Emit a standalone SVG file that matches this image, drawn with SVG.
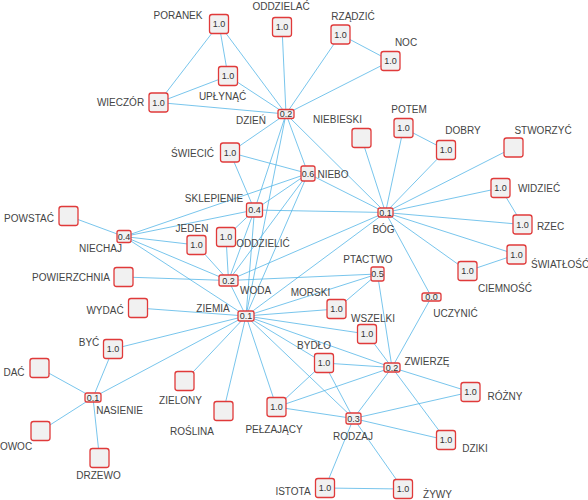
<svg xmlns="http://www.w3.org/2000/svg" width="588" height="500" viewBox="0 0 588 500">
<style>
.e{stroke:#4db3e6;stroke-width:0.9;fill:none;stroke-opacity:0.85}
.b{fill:#f1f1f1;stroke:#e03a3a;stroke-width:1.3}
.v{font-family:"Liberation Sans",Arial,sans-serif;font-size:9px;fill:#333;text-anchor:middle}
.l{font-family:"Liberation Sans",Arial,sans-serif;font-size:10px;fill:#444;text-anchor:middle}
</style>
<rect width="588" height="500" fill="#fff"/>
<g id="connectors">
<line class="e" x1="219" y1="24" x2="286" y2="114"/>
<line class="e" x1="219" y1="24" x2="158.5" y2="102.5"/>
<line class="e" x1="219" y1="24" x2="228" y2="76"/>
<line class="e" x1="282" y1="27" x2="286" y2="114"/>
<line class="e" x1="340.5" y1="34.5" x2="286" y2="114"/>
<line class="e" x1="340.5" y1="34.5" x2="390.5" y2="61"/>
<line class="e" x1="390.5" y1="61" x2="286" y2="114"/>
<line class="e" x1="228" y1="76" x2="286" y2="114"/>
<line class="e" x1="228" y1="76" x2="158.5" y2="102.5"/>
<line class="e" x1="158.5" y1="102.5" x2="286" y2="114"/>
<line class="e" x1="230" y1="152.5" x2="286" y2="114"/>
<line class="e" x1="230" y1="152.5" x2="308" y2="173.5"/>
<line class="e" x1="230" y1="152.5" x2="254.5" y2="210"/>
<line class="e" x1="286" y1="114" x2="308" y2="173.5"/>
<line class="e" x1="286" y1="114" x2="385.5" y2="212.5"/>
<line class="e" x1="286" y1="114" x2="254.5" y2="210"/>
<line class="e" x1="286" y1="114" x2="246" y2="316"/>
<line class="e" x1="361.5" y1="138" x2="385.5" y2="212.5"/>
<line class="e" x1="403.5" y1="128" x2="385.5" y2="212.5"/>
<line class="e" x1="403.5" y1="128" x2="446" y2="150"/>
<line class="e" x1="446" y1="150" x2="385.5" y2="212.5"/>
<line class="e" x1="513.5" y1="147.5" x2="385.5" y2="212.5"/>
<line class="e" x1="500.5" y1="188" x2="385.5" y2="212.5"/>
<line class="e" x1="500.5" y1="188" x2="522.5" y2="224.5"/>
<line class="e" x1="522.5" y1="224.5" x2="385.5" y2="212.5"/>
<line class="e" x1="516.5" y1="254.5" x2="385.5" y2="212.5"/>
<line class="e" x1="516.5" y1="254.5" x2="467.5" y2="271"/>
<line class="e" x1="467.5" y1="271" x2="385.5" y2="212.5"/>
<line class="e" x1="431.5" y1="297" x2="385.5" y2="212.5"/>
<line class="e" x1="431.5" y1="297" x2="392" y2="367.5"/>
<line class="e" x1="308" y1="173.5" x2="385.5" y2="212.5"/>
<line class="e" x1="308" y1="173.5" x2="254.5" y2="210"/>
<line class="e" x1="308" y1="173.5" x2="246" y2="316"/>
<line class="e" x1="308" y1="173.5" x2="228.5" y2="280.5"/>
<line class="e" x1="124" y1="236.5" x2="308" y2="173.5"/>
<line class="e" x1="254.5" y1="210" x2="385.5" y2="212.5"/>
<line class="e" x1="254.5" y1="210" x2="228.5" y2="280.5"/>
<line class="e" x1="254.5" y1="210" x2="246" y2="316"/>
<line class="e" x1="254.5" y1="210" x2="226" y2="237"/>
<line class="e" x1="254.5" y1="210" x2="124" y2="236.5"/>
<line class="e" x1="68.5" y1="216" x2="124" y2="236.5"/>
<line class="e" x1="124" y1="236.5" x2="196.5" y2="245"/>
<line class="e" x1="124" y1="236.5" x2="228.5" y2="280.5"/>
<line class="e" x1="124" y1="236.5" x2="246" y2="316"/>
<line class="e" x1="196.5" y1="245" x2="228.5" y2="280.5"/>
<line class="e" x1="226" y1="237" x2="228.5" y2="280.5"/>
<line class="e" x1="123.5" y1="277" x2="228.5" y2="280.5"/>
<line class="e" x1="228.5" y1="280.5" x2="385.5" y2="212.5"/>
<line class="e" x1="228.5" y1="280.5" x2="377.5" y2="274"/>
<line class="e" x1="228.5" y1="280.5" x2="246" y2="316"/>
<line class="e" x1="385.5" y1="212.5" x2="246" y2="316"/>
<line class="e" x1="377.5" y1="274" x2="246" y2="316"/>
<line class="e" x1="377.5" y1="274" x2="336.5" y2="309"/>
<line class="e" x1="377.5" y1="274" x2="392" y2="367.5"/>
<line class="e" x1="138" y1="308" x2="246" y2="316"/>
<line class="e" x1="113" y1="349" x2="246" y2="316"/>
<line class="e" x1="93" y1="397.5" x2="246" y2="316"/>
<line class="e" x1="184.5" y1="381" x2="246" y2="316"/>
<line class="e" x1="223.5" y1="411" x2="246" y2="316"/>
<line class="e" x1="276.5" y1="407" x2="246" y2="316"/>
<line class="e" x1="336.5" y1="309" x2="246" y2="316"/>
<line class="e" x1="367" y1="334" x2="246" y2="316"/>
<line class="e" x1="324" y1="363" x2="246" y2="316"/>
<line class="e" x1="392" y1="367.5" x2="246" y2="316"/>
<line class="e" x1="353.5" y1="418.5" x2="246" y2="316"/>
<line class="e" x1="367" y1="334" x2="392" y2="367.5"/>
<line class="e" x1="324" y1="363" x2="392" y2="367.5"/>
<line class="e" x1="276.5" y1="407" x2="392" y2="367.5"/>
<line class="e" x1="353.5" y1="418.5" x2="392" y2="367.5"/>
<line class="e" x1="470.5" y1="392" x2="392" y2="367.5"/>
<line class="e" x1="446" y1="440" x2="392" y2="367.5"/>
<line class="e" x1="324" y1="363" x2="353.5" y2="418.5"/>
<line class="e" x1="324" y1="363" x2="276.5" y2="407"/>
<line class="e" x1="276.5" y1="407" x2="353.5" y2="418.5"/>
<line class="e" x1="470.5" y1="392" x2="353.5" y2="418.5"/>
<line class="e" x1="446" y1="440" x2="353.5" y2="418.5"/>
<line class="e" x1="325" y1="488" x2="353.5" y2="418.5"/>
<line class="e" x1="403" y1="489" x2="353.5" y2="418.5"/>
<line class="e" x1="325" y1="488" x2="403" y2="489"/>
<line class="e" x1="113" y1="349" x2="93" y2="397.5"/>
<line class="e" x1="39.5" y1="368" x2="93" y2="397.5"/>
<line class="e" x1="40.5" y1="431" x2="93" y2="397.5"/>
<line class="e" x1="99.5" y1="458" x2="93" y2="397.5"/>
</g>
<g id="PORANEK"><rect class="b" x="209.5" y="14.5" width="19" height="19" rx="2.5"/><text class="v" x="219" y="27.2">1.0</text><text class="l" x="178" y="19">PORANEK</text></g>
<g id="ODDZIELAC"><rect class="b" x="272.5" y="17.5" width="19" height="19" rx="2.5"/><text class="v" x="282" y="30.2">1.0</text><text class="l" x="281" y="10">ODDZIELAĆ</text></g>
<g id="RZADZIC"><rect class="b" x="331" y="25" width="19" height="19" rx="2.5"/><text class="v" x="340.5" y="37.7">1.0</text><text class="l" x="353" y="20">RZĄDZIĆ</text></g>
<g id="NOC"><rect class="b" x="381" y="51.5" width="19" height="19" rx="2.5"/><text class="v" x="390.5" y="64.2">1.0</text><text class="l" x="406" y="46">NOC</text></g>
<g id="UPLYNAC"><rect class="b" x="218.5" y="66.5" width="19" height="19" rx="2.5"/><text class="v" x="228" y="79.2">1.0</text><text class="l" x="222.5" y="100">UPŁYNĄĆ</text></g>
<g id="WIECZOR"><rect class="b" x="149" y="93" width="19" height="19" rx="2.5"/><text class="v" x="158.5" y="105.7">1.0</text><text class="l" x="120.5" y="106">WIECZÓR</text></g>
<g id="DZIEN"><rect class="b" x="278" y="109.5" width="16" height="9" rx="2"/><text class="v" x="286" y="117.3">0.2</text><text class="l" x="251" y="124">DZIEŃ</text></g>
<g id="NIEBIESKI"><rect class="b" x="352" y="128.5" width="19" height="19" rx="2.5"/><text class="l" x="337.5" y="123">NIEBIESKI</text></g>
<g id="POTEM"><rect class="b" x="394" y="118.5" width="19" height="19" rx="2.5"/><text class="v" x="403.5" y="131.2">1.0</text><text class="l" x="409" y="113">POTEM</text></g>
<g id="DOBRY"><rect class="b" x="436.5" y="140.5" width="19" height="19" rx="2.5"/><text class="v" x="446" y="153.2">1.0</text><text class="l" x="463" y="134">DOBRY</text></g>
<g id="STWORZYC"><rect class="b" x="504" y="138" width="19" height="19" rx="2.5"/><text class="l" x="543" y="134">STWORZYĆ</text></g>
<g id="SWIECIC"><rect class="b" x="220.5" y="143" width="19" height="19" rx="2.5"/><text class="v" x="230" y="155.7">1.0</text><text class="l" x="192.5" y="157">ŚWIECIĆ</text></g>
<g id="NIEBO"><rect class="b" x="301" y="166" width="14" height="15" rx="2"/><text class="v" x="308" y="176.7">0.6</text><text class="l" x="333" y="178">NIEBO</text></g>
<g id="SKLEPIENIE"><rect class="b" x="246.5" y="203" width="16" height="14" rx="2"/><text class="v" x="254.5" y="213.2">0.4</text><text class="l" x="214" y="202">SKLEPIENIE</text></g>
<g id="BOG"><rect class="b" x="378" y="208" width="15" height="9" rx="2"/><text class="v" x="385.5" y="215.7">0.1</text><text class="l" x="383.5" y="233">BÓG</text></g>
<g id="WIDZIEC"><rect class="b" x="491" y="178.5" width="19" height="19" rx="2.5"/><text class="v" x="500.5" y="191.2">1.0</text><text class="l" x="539" y="192">WIDZIEĆ</text></g>
<g id="RZEC"><rect class="b" x="513" y="215" width="19" height="19" rx="2.5"/><text class="v" x="522.5" y="227.7">1.0</text><text class="l" x="550.5" y="230">RZEC</text></g>
<g id="SWIATLOSC"><rect class="b" x="507" y="245" width="19" height="19" rx="2.5"/><text class="v" x="516.5" y="257.7">1.0</text><text class="l" x="531" y="268" style="text-anchor:start">ŚWIATŁOŚĆ</text></g>
<g id="CIEMNOSC"><rect class="b" x="458" y="261.5" width="19" height="19" rx="2.5"/><text class="v" x="467.5" y="274.2">1.0</text><text class="l" x="505" y="292">CIEMNOŚĆ</text></g>
<g id="UCZYNIC"><rect class="b" x="422" y="293" width="19" height="8" rx="2"/><text class="v" x="431.5" y="300.3">0.0</text><text class="l" x="455.5" y="317">UCZYNIĆ</text></g>
<g id="PTACTWO"><rect class="b" x="371" y="267" width="13" height="14" rx="2"/><text class="v" x="377.5" y="277.2">0.5</text><text class="l" x="368" y="263">PTACTWO</text></g>
<g id="POWSTAC"><rect class="b" x="59" y="206.5" width="19" height="19" rx="2.5"/><text class="l" x="29" y="222">POWSTAĆ</text></g>
<g id="NIECHAJ"><rect class="b" x="117" y="230.5" width="14" height="12" rx="2"/><text class="v" x="124" y="239.7">0.4</text><text class="l" x="100.5" y="252">NIECHAJ</text></g>
<g id="JEDEN"><rect class="b" x="187" y="235.5" width="19" height="19" rx="2.5"/><text class="v" x="196.5" y="248.2">1.0</text><text class="l" x="192" y="232">JEDEN</text></g>
<g id="ODDZIELIC"><rect class="b" x="216.5" y="227.5" width="19" height="19" rx="2.5"/><text class="v" x="226" y="240.2">1.0</text><text class="l" x="263" y="246.5">ODDZIELIĆ</text></g>
<g id="POWIERZCHNIA"><rect class="b" x="114" y="267.5" width="19" height="19" rx="2.5"/><text class="l" x="71" y="281">POWIERZCHNIA</text></g>
<g id="WODA"><rect class="b" x="219" y="275" width="19" height="11" rx="2"/><text class="v" x="228.5" y="283.7">0.2</text><text class="l" x="255.5" y="294">WODA</text></g>
<g id="WYDAC"><rect class="b" x="128.5" y="298.5" width="19" height="19" rx="2.5"/><text class="l" x="105" y="314">WYDAĆ</text></g>
<g id="ZIEMIA"><rect class="b" x="238" y="311" width="16" height="10" rx="2"/><text class="v" x="246" y="319.2">0.1</text><text class="l" x="213" y="312">ZIEMIA</text></g>
<g id="MORSKI"><rect class="b" x="327" y="299.5" width="19" height="19" rx="2.5"/><text class="v" x="336.5" y="312.2">1.0</text><text class="l" x="310.5" y="296">MORSKI</text></g>
<g id="WSZELKI"><rect class="b" x="357.5" y="324.5" width="19" height="19" rx="2.5"/><text class="v" x="367" y="337.2">1.0</text><text class="l" x="373" y="322">WSZELKI</text></g>
<g id="BYDLO"><rect class="b" x="314.5" y="353.5" width="19" height="19" rx="2.5"/><text class="v" x="324" y="366.2">1.0</text><text class="l" x="314" y="349">BYDŁO</text></g>
<g id="ZWIERZE"><rect class="b" x="384" y="363" width="16" height="9" rx="2"/><text class="v" x="392" y="370.7">0.2</text><text class="l" x="427" y="365">ZWIERZĘ</text></g>
<g id="BYC"><rect class="b" x="103.5" y="339.5" width="19" height="19" rx="2.5"/><text class="v" x="113" y="352.2">1.0</text><text class="l" x="89" y="346">BYĆ</text></g>
<g id="DAC"><rect class="b" x="30" y="358.5" width="19" height="19" rx="2.5"/><text class="l" x="14" y="376">DAĆ</text></g>
<g id="NASIENIE"><rect class="b" x="85" y="393" width="16" height="9" rx="2"/><text class="v" x="93" y="400.7">0.1</text><text class="l" x="119.5" y="414">NASIENIE</text></g>
<g id="OWOC"><rect class="b" x="31" y="421.5" width="19" height="19" rx="2.5"/><text class="l" x="16" y="450">OWOC</text></g>
<g id="DRZEWO"><rect class="b" x="90" y="448.5" width="19" height="19" rx="2.5"/><text class="l" x="98.5" y="479">DRZEWO</text></g>
<g id="ZIELONY"><rect class="b" x="175" y="371.5" width="19" height="19" rx="2.5"/><text class="l" x="180.5" y="404">ZIELONY</text></g>
<g id="ROSLINA"><rect class="b" x="214" y="401.5" width="19" height="19" rx="2.5"/><text class="l" x="192" y="435">ROŚLINA</text></g>
<g id="PELZAJACY"><rect class="b" x="267" y="397.5" width="19" height="19" rx="2.5"/><text class="v" x="276.5" y="410.2">1.0</text><text class="l" x="274" y="433">PEŁZAJĄCY</text></g>
<g id="RODZAJ"><rect class="b" x="346" y="413" width="15" height="11" rx="2"/><text class="v" x="353.5" y="421.7">0.3</text><text class="l" x="353" y="440">RODZAJ</text></g>
<g id="ROZNY"><rect class="b" x="461" y="382.5" width="19" height="19" rx="2.5"/><text class="v" x="470.5" y="395.2">1.0</text><text class="l" x="505" y="400">RÓŻNY</text></g>
<g id="DZIKI"><rect class="b" x="436.5" y="430.5" width="19" height="19" rx="2.5"/><text class="v" x="446" y="443.2">1.0</text><text class="l" x="475" y="452">DZIKI</text></g>
<g id="ISTOTA"><rect class="b" x="315.5" y="478.5" width="19" height="19" rx="2.5"/><text class="v" x="325" y="491.2">1.0</text><text class="l" x="293" y="495">ISTOTA</text></g>
<g id="ZYWY"><rect class="b" x="393.5" y="479.5" width="19" height="19" rx="2.5"/><text class="v" x="403" y="492.2">1.0</text><text class="l" x="437.5" y="498">ŻYWY</text></g>
</svg>
